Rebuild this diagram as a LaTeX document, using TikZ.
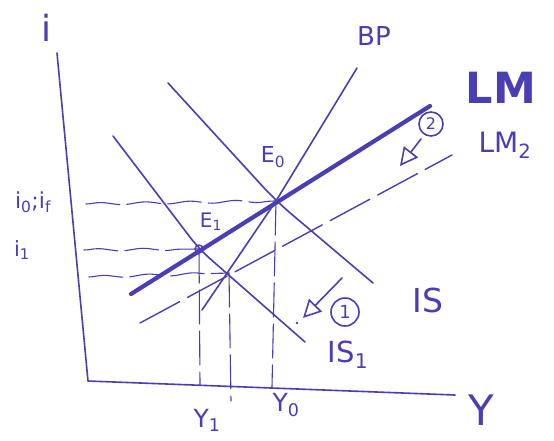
\documentclass[tikz,border=0pt]{standalone}
\usepackage{fontspec}
\setmainfont{DejaVu Sans}
\usetikzlibrary{arrows.meta,decorations.pathmorphing}
\definecolor{ink}{RGB}{74,62,180}
\begin{document}
\begin{tikzpicture}[x=1pt,y=-1pt,
  every node/.style={text=ink, inner sep=0pt},
  pen/.style={draw=ink, line width=1.6pt, line cap=round, line join=round},
  boldpen/.style={draw=ink, line width=4.2pt, line cap=round},
  guide/.style={draw=ink, line width=1.1pt, line cap=round, dash pattern=on 34pt off 7pt},
  wavy/.style={guide, decorate, decoration={snake, amplitude=1.2pt, segment length=45pt}},
  lbl/.style={font=\fontsize{#1}{#1}\selectfont},
  ring/.style={draw=ink, circle, line width=1.6pt, minimum size=#1},
  opentip/.style={-{Triangle[open, length=18pt, width=18pt, line width=1.6pt]}},
]
\fill[white] (0,0) rectangle (554,440);
\useasboundingbox (0,0) rectangle (554,440);

% key points
\coordinate (iTop) at (57,53);
\coordinate (O) at (88,381);
\coordinate (yEnd) at (455,395);
\coordinate (E0) at (276,201);
\coordinate (E1) at (199,249);
\coordinate (Q) at (229,273);
\coordinate (IStop) at (168,83);
\coordinate (ISbot) at (373,283);
\coordinate (ISatop) at (113,136);
\coordinate (ISabot) at (305,342);
\coordinate (BPtop) at (357,68);
\coordinate (BPbot) at (202,310);
\coordinate (LMlo) at (131,294);
\coordinate (LMhi) at (430,106);
\coordinate (LMblo) at (140,323);
\coordinate (LMbhi) at (452,155);

% axes
\draw[pen] (iTop) -- (O) -- (yEnd);

% guide lines
\draw[wavy] (86,204) -- (E0);
\draw[wavy] (84,250) -- (E1);
\draw[wavy] (89,277) -- (Q);
\draw[guide] (E1) -- (200,385);
\draw[guide] (Q) -- (231,401);
\draw[guide] (E0) -- (272,387);

% curves
\draw[pen, rounded corners=20pt] (IStop) -- (E0) -- (ISbot);
\draw[pen, rounded corners=15pt] (ISatop) -- (E1) -- (ISabot);
\draw[pen] (BPbot) -- (E0) -- (BPtop);
\draw[boldpen] (LMlo) -- (LMhi);
\draw[draw=ink, line width=1.4pt, line cap=round, dash pattern=on 45pt off 9pt] (LMblo) -- (LMbhi);

% equilibrium marker
\draw[pen, line width=1.4pt] (E1) circle (4pt);

% shift arrows
\draw[pen, opentip] (342,278) -- (303,318);
\node[ring=28pt, lbl=18] (c1) at (345,312) {1};
\fill[ink] (297,323) circle (1.3pt);
\draw[pen, opentip] (421,139) -- (400,166);
\node[ring=24pt, lbl=16] (c2) at (431,124) {2};

% labels
\node[lbl=36] (li) at (47,28) {i};
\node[lbl=42] (lY) at (481,410) {Y};
\node[lbl=22] (li0) at (33,202) {i\textsubscript{0};i\textsubscript{f}};
\node[lbl=21] (li1) at (22,250) {i\textsubscript{1}};
\node[lbl=22] (lE0) at (273,157) {E\textsubscript{0}};
\node[lbl=20] (lE1) at (211,222) {E\textsubscript{1}};
\node[lbl=26] (lBP) at (374,36) {BP};
\node[font=\fontsize{43}{43}\selectfont\bfseries] (lLM) at (501,88) {LM};
\node[lbl=28] (lLM2) at (505,145) {LM\textsubscript{2}};
\node[lbl=33] (lIS) at (428,300) {IS};
\node[lbl=29] (lIS1) at (348,355) {IS\textsubscript{1}};
\node[lbl=25] (lY1) at (207,420) {Y\textsubscript{1}};
\node[lbl=25] (lY0) at (286,405) {Y\textsubscript{0}};
\end{tikzpicture}
\end{document}
